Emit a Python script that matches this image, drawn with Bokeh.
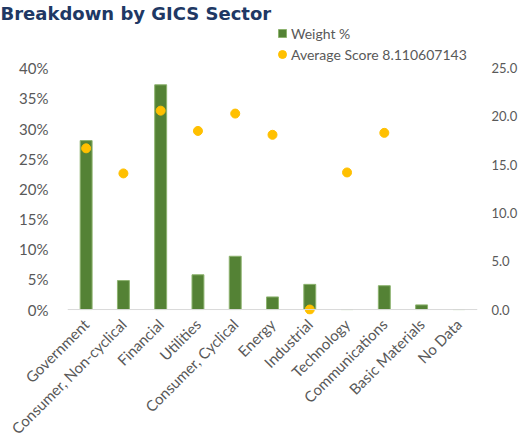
from math import pi, nan
from bokeh.plotting import figure
from bokeh.models import (Range1d, LinearAxis, FixedTicker, NumeralTickFormatter,
                          Span, Legend, LegendItem, FactorRange)
from bokeh.embed import file_html
from bokeh.resources import INLINE

categories = ["Government", "Consumer, Non-cyclical", "Financial", "Utilities",
              "Consumer, Cyclical", "Energy", "Industrial", "Technology",
              "Communications", "Basic Materials", "No Data"]
weights = [0.280, 0.048, 0.3725, 0.0576, 0.0883, 0.0209, 0.0417, 0.0, 0.0395, 0.0077, 0.0]
scores = [16.7, 14.1, 20.6, 18.5, 20.3, 18.1, 0.0, 14.2, 18.3, nan, nan]
weight_ticks = [0, 0.05, 0.10, 0.15, 0.20, 0.25, 0.30, 0.35, 0.40]
score_ticks = [0, 5, 10, 15, 20, 25]

GREY = "#595959"
W_MAX, S_MAX = 0.40, 25
PAD = 5 / 243     # room below zero so the dot on the baseline is not cut
TOP = 288 / 243   # room above the top tick for the legend

p = figure(width=520, height=446, x_range=FactorRange(*categories),
           y_range=Range1d(-W_MAX * PAD, W_MAX * TOP), output_backend="svg",
           toolbar_location=None, min_border_left=67, min_border_right=42,
           min_border_top=22, min_border_bottom=131,
           title="Breakdown by GICS Sector")
p.extra_y_ranges = {"score": Range1d(-S_MAX * PAD, S_MAX * TOP)}
p.outline_line_color = None
p.xgrid.visible = False
p.ygrid.visible = False

p.title.align = "left"
p.title.offset = -67
p.title.standoff = 0
p.title.text_font = "DejaVu Sans"
p.title.text_font_style = "bold"
p.title.text_font_size = "18px"
p.title.text_color = "#203864"

bars = p.vbar(x=categories, top=weights, bottom=0, width=0.32,
              fill_color="#548235", line_color="#8db36f", line_width=1)
dots = p.ellipse(x=categories, y=scores, y_range_name="score", width=9, height=9,
                 width_units="screen", height_units="screen",
                 fill_color="#FFC000", line_color="#FFC000")

p.add_layout(Span(location=0, dimension="width", line_color="#d9d9d9", line_width=1))

ya = p.yaxis[0]
ya.ticker = FixedTicker(ticks=weight_ticks)
ya.formatter = NumeralTickFormatter(format="0%")
ya.axis_line_color = None
ya.major_tick_line_color = None
ya.major_tick_in = 0
ya.major_tick_out = 0
ya.minor_tick_line_color = None
ya.major_label_standoff = 19
ya.major_label_text_font = "Lato"
ya.major_label_text_font_size = "15px"
ya.major_label_text_color = GREY

ra = LinearAxis(y_range_name="score", ticker=FixedTicker(ticks=score_ticks),
                formatter=NumeralTickFormatter(format="0.0"))
ra.axis_line_color = None
ra.major_tick_line_color = None
ra.major_tick_in = 0
ra.major_tick_out = 0
ra.minor_tick_line_color = None
ra.major_label_standoff = 14
ra.major_label_text_font = "Lato"
ra.major_label_text_font_size = "13px"
ra.major_label_text_color = GREY
p.add_layout(ra, "right")

xa = p.xaxis[0]
xa.axis_line_color = None
xa.major_tick_line_color = None
xa.major_tick_in = 0
xa.major_tick_out = 0
xa.minor_tick_line_color = None
xa.major_label_orientation = pi / 4
xa.major_label_standoff = 7
xa.major_label_text_font = "Lato"
xa.major_label_text_font_size = "15px"
xa.major_label_text_color = GREY

leg = Legend(items=[LegendItem(label="Weight %", renderers=[bars]),
                    LegendItem(label="Average Score 8.110607143", renderers=[dots])],
             location=(210, 250), glyph_width=10, glyph_height=10, label_height=20,
             spacing=1, label_standoff=4, padding=0, margin=0, border_line_color=None,
             background_fill_alpha=0, label_text_font="Lato",
             label_text_font_size="14px", label_text_color=GREY)
p.add_layout(leg)

open("out.html", "w").write(file_html(p, INLINE))
